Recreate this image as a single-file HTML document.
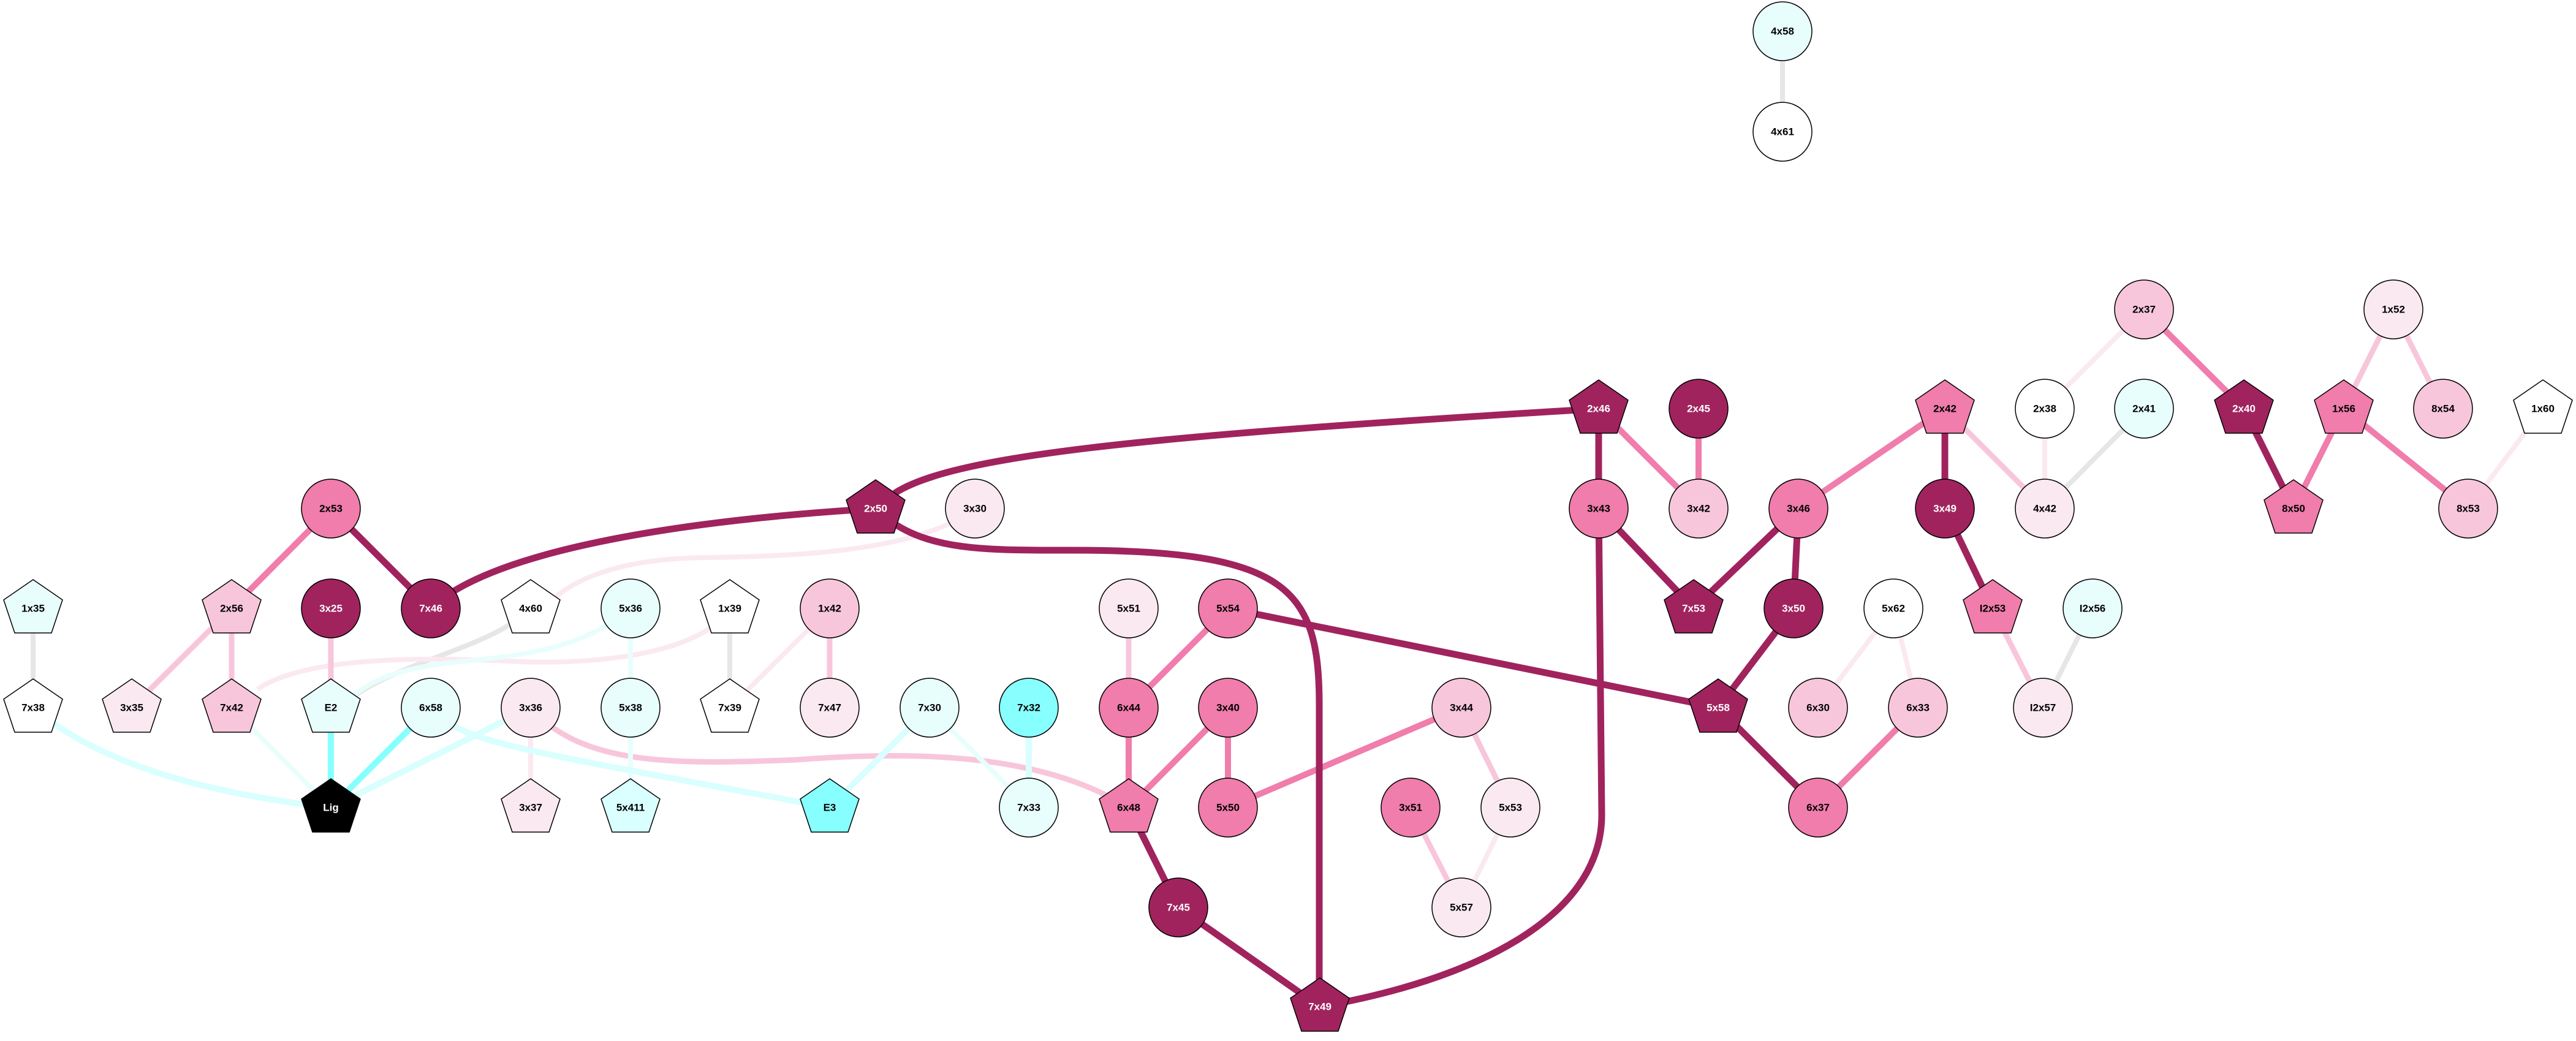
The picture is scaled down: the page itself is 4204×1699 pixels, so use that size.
<!DOCTYPE html>
<html><head><meta charset="utf-8"><style>
html,body{margin:0;padding:0;background:#fff;width:4204px;height:1699px;overflow:hidden}
svg text{font-family:"Liberation Sans",Arial,sans-serif;font-weight:bold;font-size:17px;text-anchor:middle;dominant-baseline:central}
</style></head><body>
<svg width="4204" height="1699" viewBox="0 0 4204 1699" xmlns="http://www.w3.org/2000/svg">
<g fill="none" stroke-linecap="butt">
<!-- gray -->
<g stroke="#E6E6E6" stroke-width="8">
<line x1="2909" y1="51" x2="2909" y2="215"/>
<line x1="3499" y1="667" x2="3337" y2="830"/>
<line x1="3415" y1="993" x2="3334" y2="1155"/>
<line x1="54" y1="993" x2="54" y2="1155"/>
<line x1="1191" y1="993" x2="1191" y2="1155"/>
<path d="M866,993 C800,1060 640,1080 560,1150"/>
</g>
<!-- very light pink -->
<g stroke="#FBE9F1" stroke-width="8">
<line x1="3499" y1="505" x2="3337" y2="667"/>
<line x1="3337" y1="667" x2="3337" y2="830"/>
<line x1="4150" y1="667" x2="4028" y2="830"/>
<line x1="3090" y1="993" x2="2967" y2="1155"/>
<line x1="3090" y1="993" x2="3130" y2="1155"/>
<line x1="1354" y1="993" x2="1191" y2="1155"/>
<line x1="866" y1="1155" x2="866" y2="1318"/>
<line x1="2465" y1="1318" x2="2385" y2="1481"/>
<path d="M1591,830 C1500,900 1300,908 1150,910 C1000,912 930,950 895,985"/>
<path d="M1191,993 C1150,1060 1000,1085 850,1080 C700,1072 500,1070 420,1125"/>
</g>
<!-- light pink -->
<g stroke="#F8C6DB" stroke-width="9">
<line x1="3906" y1="505" x2="3825" y2="667"/>
<line x1="3906" y1="505" x2="3987" y2="667"/>
<line x1="3174" y1="667" x2="3337" y2="830"/>
<line x1="3252" y1="993" x2="3334" y2="1155"/>
<line x1="1842" y1="993" x2="1842" y2="1155"/>
<line x1="378" y1="993" x2="215" y2="1155"/>
<line x1="378" y1="993" x2="378" y2="1155"/>
<line x1="540" y1="993" x2="540" y2="1155"/>
<line x1="1354" y1="993" x2="1354" y2="1155"/>
<line x1="2385" y1="1155" x2="2465" y2="1318"/>
<line x1="2302" y1="1318" x2="2385" y2="1481"/>
<path d="M866,1155 C950,1250 1100,1248 1300,1240 C1500,1225 1700,1230 1842,1318"/>
</g>
<!-- light cyan -->
<g stroke="#E8FEFD" stroke-width="8">
<line x1="1029" y1="993" x2="1029" y2="1155"/>
<line x1="1029" y1="1155" x2="1029" y2="1318"/>
<line x1="378" y1="1155" x2="540" y2="1318"/>
<line x1="1517" y1="1155" x2="1679" y2="1318"/>
<path d="M1029,993 C950,1060 850,1070 750,1080 C650,1090 600,1110 560,1150"/>
</g>
<g stroke="#D9FFFE" stroke-width="10">
<path d="M54,1155 Q200,1280 540,1318"/>
<line x1="866" y1="1155" x2="540" y2="1318"/>
<path d="M703,1155 C760,1212 800,1215 1354,1318"/>
<line x1="1517" y1="1155" x2="1354" y2="1318"/>
<line x1="1679" y1="1155" x2="1679" y2="1318"/>
</g>
<g stroke="#88FFFF" stroke-width="10">
<line x1="540" y1="1155" x2="540" y2="1318"/>
<line x1="703" y1="1155" x2="540" y2="1318"/>
</g>
<!-- medium -->
<g stroke="#F07DAB" stroke-width="10">
<line x1="3499" y1="505" x2="3662" y2="667"/>
<line x1="2609" y1="667" x2="2772" y2="830"/>
<line x1="2772" y1="667" x2="2772" y2="830"/>
<line x1="3174" y1="667" x2="2935" y2="830"/>
<line x1="3825" y1="667" x2="3743" y2="830"/>
<line x1="3825" y1="667" x2="4028" y2="830"/>
<line x1="540" y1="830" x2="378" y2="993"/>
<line x1="2004" y1="993" x2="1842" y2="1155"/>
<line x1="1842" y1="1155" x2="1842" y2="1318"/>
<line x1="2004" y1="1155" x2="1842" y2="1318"/>
<line x1="2004" y1="1155" x2="2004" y2="1318"/>
<line x1="2385" y1="1155" x2="2004" y2="1318"/>
<line x1="3130" y1="1155" x2="2967" y2="1318"/>
</g>
<!-- dark -->
<g stroke="#A0235E" stroke-width="11">
<line x1="3662" y1="667" x2="3743" y2="830"/>
<line x1="2609" y1="667" x2="2609" y2="830"/>
<line x1="3174" y1="667" x2="3174" y2="830"/>
<line x1="540" y1="830" x2="703" y2="993"/>
<line x1="2609" y1="830" x2="2764" y2="993"/>
<line x1="2935" y1="830" x2="2764" y2="993"/>
<line x1="2935" y1="830" x2="2927" y2="993"/>
<line x1="3174" y1="830" x2="3252" y2="993"/>
<line x1="2004" y1="993" x2="2804" y2="1155"/>
<line x1="2927" y1="993" x2="2804" y2="1155"/>
<line x1="2804" y1="1155" x2="2967" y2="1318"/>
<line x1="1842" y1="1318" x2="1923" y2="1481"/>
<line x1="1923" y1="1481" x2="2154" y2="1643"/>
<path d="M1460,805 C1560,740 1900,710 2609,667"/>
<path d="M1429,830 C1100,850 800,900 703,993"/>
<path d="M1429,830 C1500,900 1600,898 1750,898 C2100,898 2153,960 2153,1150 L2153,1620"/>
<path d="M2609,830 L2614,1330 C2614,1500 2400,1600 2154,1643"/>
</g>
</g>
<!-- nodes -->
<g stroke="#000" stroke-width="1.5">
<circle cx="2909" cy="51" r="48" fill="#E8FEFD"/>
<circle cx="2909" cy="215" r="48" fill="#fff"/>
<circle cx="3499" cy="505" r="48" fill="#F8C6DB"/>
<circle cx="3906" cy="505" r="48" fill="#FBE9F1"/>
<polygon points="2609,620 2657,653 2639,707 2579,707 2561,653" fill="#A0235E"/>
<circle cx="2772" cy="667" r="48" fill="#A0235E"/>
<polygon points="3174,620 3222,653 3204,707 3144,707 3126,653" fill="#F07DAB"/>
<circle cx="3337" cy="667" r="48" fill="#fff"/>
<circle cx="3499" cy="667" r="48" fill="#E8FEFD"/>
<polygon points="3662,620 3710,653 3692,707 3632,707 3614,653" fill="#A0235E"/>
<polygon points="3825,620 3873,653 3855,707 3795,707 3777,653" fill="#F07DAB"/>
<circle cx="3987" cy="667" r="48" fill="#F8C6DB"/>
<polygon points="4150,620 4198,653 4180,707 4120,707 4102,653" fill="#fff"/>
<circle cx="540" cy="830" r="48" fill="#F07DAB"/>
<polygon points="1429,783 1477,816 1459,870 1399,870 1381,816" fill="#A0235E"/>
<circle cx="1591" cy="830" r="48" fill="#FBE9F1"/>
<circle cx="2609" cy="830" r="48" fill="#F07DAB"/>
<circle cx="2772" cy="830" r="48" fill="#F8C6DB"/>
<circle cx="2935" cy="830" r="48" fill="#F07DAB"/>
<circle cx="3174" cy="830" r="48" fill="#A0235E"/>
<circle cx="3337" cy="830" r="48" fill="#FBE9F1"/>
<polygon points="3743,783 3791,816 3773,870 3713,870 3695,816" fill="#F07DAB"/>
<circle cx="4028" cy="830" r="48" fill="#F8C6DB"/>
<polygon points="54,946 102,979 84,1033 24,1033 6,979" fill="#E8FEFD"/>
<polygon points="378,946 426,979 408,1033 348,1033 330,979" fill="#F8C6DB"/>
<circle cx="540" cy="993" r="48" fill="#A0235E"/>
<circle cx="703" cy="993" r="48" fill="#A0235E"/>
<polygon points="866,946 914,979 896,1033 836,1033 818,979" fill="#fff"/>
<circle cx="1029" cy="993" r="48" fill="#E8FEFD"/>
<polygon points="1191,946 1239,979 1221,1033 1161,1033 1143,979" fill="#fff"/>
<circle cx="1354" cy="993" r="48" fill="#F8C6DB"/>
<circle cx="1842" cy="993" r="48" fill="#FBE9F1"/>
<circle cx="2004" cy="993" r="48" fill="#F07DAB"/>
<polygon points="2764,946 2812,979 2794,1033 2734,1033 2716,979" fill="#A0235E"/>
<circle cx="2927" cy="993" r="48" fill="#A0235E"/>
<circle cx="3090" cy="993" r="48" fill="#fff"/>
<polygon points="3252,946 3300,979 3282,1033 3222,1033 3204,979" fill="#F07DAB"/>
<circle cx="3415" cy="993" r="48" fill="#E8FEFD"/>
<polygon points="54,1108 102,1141 84,1195 24,1195 6,1141" fill="#fff"/>
<polygon points="215,1108 263,1141 245,1195 185,1195 167,1141" fill="#FBE9F1"/>
<polygon points="378,1108 426,1141 408,1195 348,1195 330,1141" fill="#F8C6DB"/>
<polygon points="540,1108 588,1141 570,1195 510,1195 492,1141" fill="#E8FEFD"/>
<circle cx="703" cy="1155" r="48" fill="#E8FEFD"/>
<circle cx="866" cy="1155" r="48" fill="#FBE9F1"/>
<circle cx="1029" cy="1155" r="48" fill="#E8FEFD"/>
<polygon points="1191,1108 1239,1141 1221,1195 1161,1195 1143,1141" fill="#fff"/>
<circle cx="1354" cy="1155" r="48" fill="#FBE9F1"/>
<circle cx="1517" cy="1155" r="48" fill="#E8FEFD"/>
<circle cx="1679" cy="1155" r="48" fill="#88FFFF"/>
<circle cx="1842" cy="1155" r="48" fill="#F07DAB"/>
<circle cx="2004" cy="1155" r="48" fill="#F07DAB"/>
<circle cx="2385" cy="1155" r="48" fill="#F8C6DB"/>
<polygon points="2804,1108 2852,1141 2834,1195 2774,1195 2756,1141" fill="#A0235E"/>
<circle cx="2967" cy="1155" r="48" fill="#F8C6DB"/>
<circle cx="3130" cy="1155" r="48" fill="#F8C6DB"/>
<circle cx="3334" cy="1155" r="48" fill="#FBE9F1"/>
<polygon points="540,1271 588,1304 570,1358 510,1358 492,1304" fill="#000"/>
<polygon points="866,1271 914,1304 896,1358 836,1358 818,1304" fill="#FBE9F1"/>
<polygon points="1029,1271 1077,1304 1059,1358 999,1358 981,1304" fill="#D9FFFE"/>
<polygon points="1354,1271 1402,1304 1384,1358 1324,1358 1306,1304" fill="#88FFFF"/>
<circle cx="1679" cy="1318" r="48" fill="#E8FEFD"/>
<polygon points="1842,1271 1890,1304 1872,1358 1812,1358 1794,1304" fill="#F07DAB"/>
<circle cx="2004" cy="1318" r="48" fill="#F07DAB"/>
<circle cx="2302" cy="1318" r="48" fill="#F07DAB"/>
<circle cx="2465" cy="1318" r="48" fill="#FBE9F1"/>
<circle cx="2967" cy="1318" r="48" fill="#F07DAB"/>
<circle cx="1923" cy="1481" r="48" fill="#A0235E"/>
<circle cx="2385" cy="1481" r="48" fill="#FBE9F1"/>
<polygon points="2154,1596 2202,1629 2184,1683 2124,1683 2106,1629" fill="#A0235E"/>
</g>
<g fill="#000">
<text x="2909" y="51">4x58</text><text x="2909" y="215">4x61</text>
<text x="3499" y="505">2x37</text><text x="3906" y="505">1x52</text>
<text x="3174" y="667">2x42</text><text x="3337" y="667">2x38</text><text x="3499" y="667">2x41</text><text x="3825" y="667">1x56</text><text x="3987" y="667">8x54</text><text x="4150" y="667">1x60</text>
<text x="540" y="830">2x53</text><text x="1591" y="830">3x30</text><text x="2609" y="830">3x43</text><text x="2772" y="830">3x42</text><text x="2935" y="830">3x46</text><text x="3337" y="830">4x42</text><text x="3743" y="830">8x50</text><text x="4028" y="830">8x53</text>
<text x="54" y="993">1x35</text><text x="378" y="993">2x56</text><text x="866" y="993">4x60</text><text x="1029" y="993">5x36</text><text x="1191" y="993">1x39</text><text x="1354" y="993">1x42</text><text x="1842" y="993">5x51</text><text x="2004" y="993">5x54</text><text x="3090" y="993">5x62</text><text x="3252" y="993">I2x53</text><text x="3415" y="993">I2x56</text>
<text x="54" y="1155">7x38</text><text x="215" y="1155">3x35</text><text x="378" y="1155">7x42</text><text x="540" y="1155">E2</text><text x="703" y="1155">6x58</text><text x="866" y="1155">3x36</text><text x="1029" y="1155">5x38</text><text x="1191" y="1155">7x39</text><text x="1354" y="1155">7x47</text><text x="1517" y="1155">7x30</text><text x="1679" y="1155">7x32</text><text x="1842" y="1155">6x44</text><text x="2004" y="1155">3x40</text><text x="2385" y="1155">3x44</text><text x="2967" y="1155">6x30</text><text x="3130" y="1155">6x33</text><text x="3334" y="1155">I2x57</text>
<text x="866" y="1318">3x37</text><text x="1029" y="1318">5x411</text><text x="1354" y="1318">E3</text><text x="1679" y="1318">7x33</text><text x="1842" y="1318">6x48</text><text x="2004" y="1318">5x50</text><text x="2302" y="1318">3x51</text><text x="2465" y="1318">5x53</text><text x="2967" y="1318">6x37</text>
<text x="2385" y="1481">5x57</text>
</g>
<g fill="#fff">
<text x="2609" y="667">2x46</text><text x="2772" y="667">2x45</text><text x="3662" y="667">2x40</text>
<text x="1429" y="830">2x50</text><text x="3174" y="830">3x49</text>
<text x="540" y="993">3x25</text><text x="703" y="993">7x46</text><text x="2764" y="993">7x53</text><text x="2927" y="993">3x50</text>
<text x="2804" y="1155">5x58</text>
<text x="540" y="1318">Lig</text>
<text x="1923" y="1481">7x45</text>
<text x="2154" y="1643">7x49</text>
</g>
</svg>
</body></html>
